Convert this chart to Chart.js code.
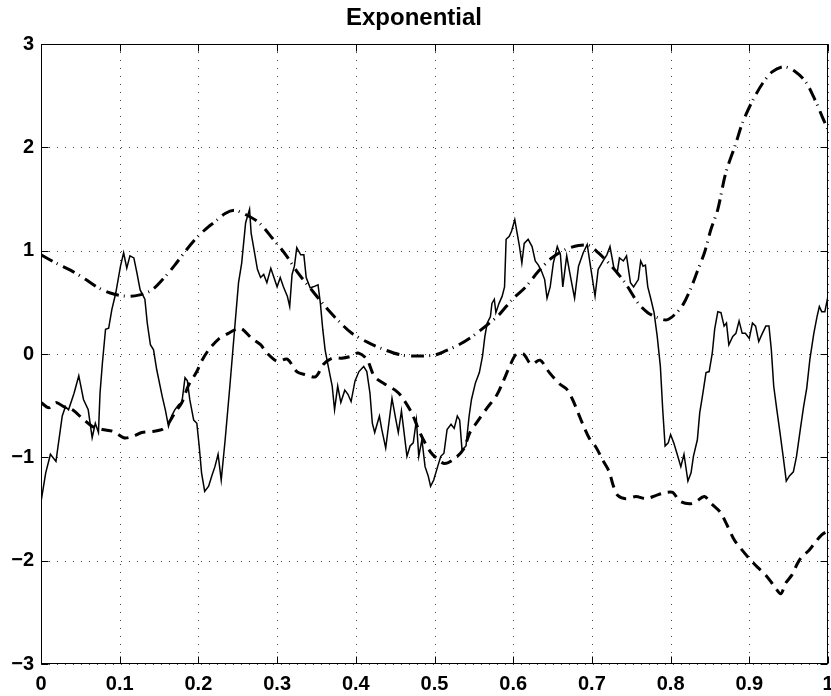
<!DOCTYPE html>
<html>
<head>
<meta charset="utf-8">
<script src="https://cdn.jsdelivr.net/npm/chart.js@4/dist/chart.umd.min.js"></script>
<style>
html,body{margin:0;padding:0;background:#fff;}
#wrap{width:831px;height:696px;position:relative;}
</style>
</head>
<body>
<div id="wrap"><canvas id="c" width="831" height="696"></canvas></div>
<script>
const chartTitle = 'Exponential';
const xTickLabels = ['0','0.1','0.2','0.3','0.4','0.5','0.6','0.7','0.8','0.9','1'];
const yTickLabels = ['\u22123','\u22122','\u22121','0','1','2','3'];

const solidX = [0.000,0.006,0.012,0.019,0.027,0.031,0.035,0.042,0.048,0.054,0.060,0.065,0.069,0.073,0.075,0.078,0.082,0.086,0.090,0.095,
0.101,0.105,0.109,0.113,0.118,0.122,0.126,0.132,0.135,0.139,0.143,0.147,0.154,0.158,0.162,0.166,0.170,0.175,0.179,0.183,
0.186,0.189,0.194,0.198,0.201,0.204,0.208,0.213,0.217,0.221,0.225,0.229,0.234,0.240,0.246,0.251,0.255,0.260,0.265,0.267,
0.270,0.275,0.279,0.283,0.287,0.292,0.296,0.300,0.304,0.308,0.313,0.316,0.319,0.322,0.325,0.330,0.334,0.337,0.342,0.346,
0.352,0.355,0.358,0.361,0.365,0.370,0.373,0.377,0.381,0.386,0.390,0.394,0.399,0.404,0.410,0.414,0.418,0.421,0.424,0.430,
0.433,0.438,0.442,0.446,0.451,0.454,0.458,0.465,0.469,0.473,0.477,0.480,0.484,0.488,0.492,0.495,0.499,0.504,0.508,0.512,
0.516,0.521,0.525,0.529,0.532,0.535,0.540,0.544,0.547,0.552,0.557,0.561,0.564,0.567,0.571,0.573,0.576,0.578,0.582,0.586,
0.589,0.591,0.595,0.598,0.602,0.605,0.608,0.611,0.614,0.619,0.624,0.628,0.632,0.636,0.640,0.643,0.647,0.651,0.656,0.660,
0.663,0.668,0.672,0.678,0.683,0.689,0.694,0.698,0.704,0.708,0.715,0.719,0.723,0.728,0.732,0.735,0.740,0.744,0.749,0.753,
0.759,0.762,0.765,0.768,0.771,0.775,0.779,0.783,0.787,0.790,0.793,0.797,0.800,0.804,0.808,0.813,0.817,0.822,0.826,0.829,
0.834,0.837,0.841,0.845,0.849,0.853,0.856,0.860,0.864,0.868,0.871,0.874,0.879,0.883,0.887,0.891,0.895,0.900,0.904,0.908,
0.912,0.916,0.921,0.925,0.928,0.931,0.935,0.939,0.943,0.947,0.951,0.956,0.960,0.965,0.969,0.973,0.977,0.982,0.986,0.989,
0.992,0.996,1.000];
const solidY = [-1.43,-1.15,-0.97,-1.04,-0.60,-0.51,-0.54,-0.38,-0.21,-0.44,-0.54,-0.81,-0.67,-0.76,-0.38,-0.09,0.24,0.25,0.43,0.59,
0.85,0.98,0.83,0.95,0.93,0.78,0.62,0.53,0.30,0.09,0.04,-0.15,-0.41,-0.54,-0.70,-0.60,-0.54,-0.49,-0.47,-0.23,
-0.26,-0.44,-0.64,-0.67,-0.89,-1.15,-1.33,-1.28,-1.18,-1.09,-0.97,-1.22,-0.83,-0.31,0.24,0.69,0.88,1.27,1.40,1.17,
1.04,0.82,0.74,0.77,0.69,0.83,0.74,0.65,0.74,0.65,0.56,0.46,0.77,0.85,1.03,0.96,0.96,0.74,0.64,0.65,
0.67,0.49,0.24,0.04,-0.12,-0.31,-0.54,-0.31,-0.47,-0.35,-0.39,-0.46,-0.26,-0.17,-0.12,-0.17,-0.38,-0.67,-0.76,-0.60,
-0.73,-0.91,-0.67,-0.43,-0.64,-0.76,-0.55,-0.99,-0.89,-0.86,-0.64,-0.99,-0.83,-1.09,-1.18,-1.28,-1.22,-1.09,-0.99,-0.96,
-0.73,-0.68,-0.72,-0.60,-0.64,-0.93,-0.89,-0.60,-0.44,-0.28,-0.18,-0.02,0.17,0.30,0.36,0.49,0.53,0.40,0.49,0.56,
0.65,1.11,1.14,1.19,1.30,1.17,1.04,0.88,1.07,1.11,1.04,0.90,0.86,0.80,0.72,0.54,0.65,0.88,1.04,0.96,
0.65,0.95,0.78,0.54,0.85,0.98,1.06,0.86,0.56,0.82,0.91,0.96,1.04,0.83,0.78,0.93,0.90,0.95,0.69,0.65,
0.72,0.90,0.85,0.86,0.65,0.53,0.40,0.17,-0.12,-0.54,-0.89,-0.86,-0.78,-0.86,-0.96,-1.09,-0.97,-1.23,-1.15,-0.99,
-0.83,-0.57,-0.38,-0.18,-0.17,0.01,0.24,0.41,0.40,0.27,0.30,0.09,0.17,0.20,0.32,0.20,0.20,0.15,0.30,0.27,
0.12,0.19,0.27,0.27,0.04,-0.31,-0.54,-0.76,-0.99,-1.23,-1.18,-1.14,-0.99,-0.72,-0.51,-0.33,-0.05,0.20,0.36,0.46,
0.41,0.41,0.56];

const dashX = [0.000,0.010,0.019,0.029,0.040,0.052,0.065,0.078,0.092,0.105,0.116,0.128,0.141,0.154,0.162,0.170,0.179,0.187,0.198,0.204,
0.213,0.225,0.238,0.251,0.256,0.268,0.279,0.287,0.300,0.313,0.325,0.336,0.349,0.359,0.370,0.382,0.395,0.403,0.414,0.424,
0.439,0.450,0.458,0.471,0.482,0.495,0.503,0.513,0.526,0.537,0.545,0.554,0.566,0.579,0.587,0.596,0.604,0.613,0.623,0.634,
0.646,0.659,0.668,0.676,0.682,0.689,0.697,0.705,0.714,0.722,0.727,0.733,0.743,0.756,0.769,0.781,0.794,0.803,0.811,0.824,
0.832,0.843,0.852,0.863,0.872,0.881,0.889,0.900,0.910,0.921,0.931,0.940,0.946,0.954,0.961,0.967,0.976,0.984,0.992,1.000];
const dashY = [-0.47,-0.52,-0.47,-0.51,-0.54,-0.62,-0.70,-0.73,-0.75,-0.81,-0.80,-0.76,-0.75,-0.73,-0.67,-0.57,-0.47,-0.31,-0.17,-0.07,
0.04,0.14,0.20,0.25,0.24,0.15,0.09,0.01,-0.07,-0.05,-0.17,-0.20,-0.22,-0.10,-0.04,-0.04,-0.02,0.01,-0.05,-0.22,
-0.30,-0.35,-0.41,-0.57,-0.77,-0.95,-1.01,-1.06,-1.01,-0.92,-0.76,-0.66,-0.53,-0.40,-0.27,-0.11,0.00,0.00,-0.10,-0.06,
-0.18,-0.29,-0.34,-0.45,-0.56,-0.69,-0.82,-0.90,-1.03,-1.14,-1.27,-1.37,-1.40,-1.38,-1.40,-1.37,-1.34,-1.34,-1.42,-1.45,
-1.43,-1.38,-1.45,-1.53,-1.66,-1.80,-1.88,-1.98,-2.06,-2.14,-2.24,-2.32,-2.22,-2.14,-2.03,-1.96,-1.90,-1.82,-1.75,-1.71];

const dashDotX = [0.000,0.019,0.040,0.057,0.073,0.088,0.107,0.124,0.141,0.158,0.170,0.183,0.196,0.208,0.221,0.234,0.246,0.260,0.277,0.294,
0.311,0.327,0.344,0.361,0.378,0.395,0.416,0.437,0.458,0.479,0.500,0.514,0.531,0.548,0.565,0.582,0.599,0.616,0.632,0.649,
0.666,0.683,0.696,0.708,0.725,0.742,0.759,0.771,0.784,0.795,0.805,0.816,0.826,0.834,0.843,0.851,0.860,0.870,0.883,0.891,
0.904,0.917,0.929,0.944,0.959,0.972,0.984,0.993,1.000];
const dashDotY = [0.96,0.88,0.80,0.72,0.64,0.59,0.56,0.57,0.62,0.75,0.86,0.99,1.11,1.20,1.28,1.36,1.39,1.35,1.27,1.12,
0.96,0.78,0.62,0.46,0.32,0.20,0.11,0.04,-0.01,-0.02,-0.01,0.03,0.09,0.17,0.27,0.38,0.53,0.65,0.80,0.93,
1.01,1.05,1.05,0.98,0.85,0.69,0.49,0.40,0.35,0.33,0.38,0.48,0.64,0.80,0.98,1.20,1.40,1.75,2.04,2.23,
2.45,2.62,2.73,2.78,2.73,2.63,2.45,2.29,2.17];

function pts(xs, ys){ return xs.map((x,i)=>({x:x, y:ys[i]})); }

const FONT = "'Liberation Sans', Arial, Helvetica, sans-serif";

const frame = {
  id: 'frame',
  beforeDatasetsDraw(chart){
    const {ctx, chartArea:a, scales:{x, y}} = chart;
    ctx.save();
    ctx.strokeStyle = '#444';
    ctx.lineWidth = 1;
    ctx.setLineDash([1,7]);
    x.ticks.forEach(t => {
      const px = Math.round(x.getPixelForValue(t.value)) + 0.5;
      ctx.beginPath(); ctx.moveTo(px, a.top); ctx.lineTo(px, a.bottom); ctx.stroke();
    });
    y.ticks.forEach(t => {
      const py = Math.round(y.getPixelForValue(t.value)) + 0.5;
      ctx.beginPath(); ctx.moveTo(a.left, py); ctx.lineTo(a.right, py); ctx.stroke();
    });
    ctx.restore();
  },
  afterDatasetsDraw(chart){
    const {ctx, chartArea:a, scales:{x, y}} = chart;
    const L = Math.round(a.left)+0.5, R = Math.round(a.right)-0.5, T = Math.round(a.top)+0.5, B = Math.round(a.bottom)-0.5;
    ctx.save();
    ctx.strokeStyle = '#000';
    ctx.lineWidth = 1;
    ctx.setLineDash([]);
    ctx.strokeRect(L, T, R-L, B-T);
    const tl = 7;
    ctx.beginPath();
    x.ticks.forEach(t => {
      const px = Math.round(x.getPixelForValue(t.value)) + 0.5;
      ctx.moveTo(px, B); ctx.lineTo(px, B - tl);
      ctx.moveTo(px, T); ctx.lineTo(px, T + tl);
    });
    y.ticks.forEach(t => {
      const py = Math.round(y.getPixelForValue(t.value)) + 0.5;
      ctx.moveTo(L, py); ctx.lineTo(L + tl, py);
      ctx.moveTo(R, py); ctx.lineTo(R - tl, py);
    });
    ctx.stroke();
    ctx.restore();
  }
};

new Chart(document.getElementById('c'), {
  type: 'scatter',
  data: {
    datasets: [
      { label: 'solid', data: pts(solidX, solidY), showLine: true, borderColor: '#000', borderWidth: 1.5, pointRadius: 0, tension: 0, fill: false },
      { label: 'dashed', data: pts(dashX, dashY), showLine: true, borderColor: '#000', borderWidth: 3, borderDash: [11,7], pointRadius: 0, tension: 0.3, fill: false },
      { label: 'dashdot', data: pts(dashDotX, dashDotY), showLine: true, borderColor: '#000', borderWidth: 3, borderDash: [13,5,1,6], pointRadius: 0, tension: 0.3, fill: false }
    ]
  },
  options: {
    responsive: false,
    animation: false,
    devicePixelRatio: 1,
    layout: { padding: { left: 0, right: 3, top: 0, bottom: 0 } },
    plugins: {
      legend: { display: false },
      tooltip: { enabled: false },
      title: {
        display: true,
        text: chartTitle,
        color: '#000',
        font: { family: FONT, weight: 'bold', size: 24, lineHeight: 1.2 },
        padding: { top: 4, bottom: 11.2 }
      }
    },
    scales: {
      x: {
        type: 'linear',
        min: 0, max: 1,
        grid: { display: false, drawTicks: false },
        border: { display: false },
        ticks: {
          stepSize: 0.1,
          autoSkip: false,
          maxRotation: 0,
          color: '#000',
          padding: 8,
          font: { family: FONT, weight: 'bold', size: 20 },
          callback: (v) => xTickLabels[Math.round(v * 10)]
        },
        afterFit: (s) => { s.height = 32; s.paddingLeft = 0; s.paddingRight = 0; }
      },
      y: {
        type: 'linear',
        min: -3, max: 3,
        grid: { display: false, drawTicks: false },
        border: { display: false },
        ticks: {
          stepSize: 1,
          autoSkip: false,
          color: '#000',
          padding: 7,
          font: { family: FONT, weight: 'bold', size: 20 },
          callback: (v) => yTickLabels[Math.round(v) + 3]
        },
        afterFit: (s) => { s.width = 41; s.paddingTop = 0; s.paddingBottom = 0; }
      }
    }
  },
  plugins: [frame]
});
</script>
</body>
</html>
